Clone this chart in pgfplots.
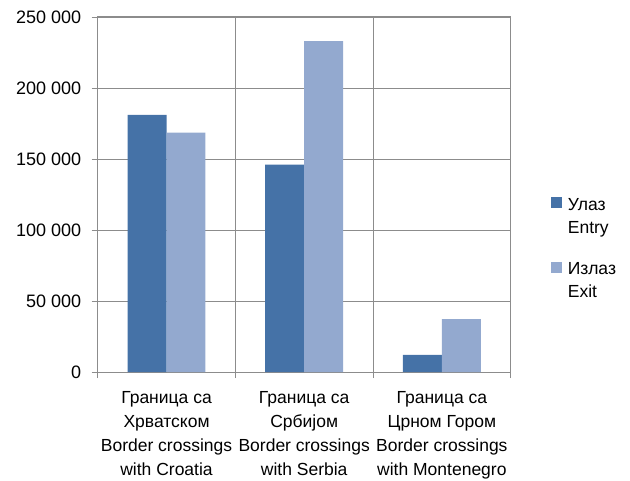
\documentclass[border=0pt]{standalone}
\usepackage{fontspec}
\setmainfont{Liberation Sans}
\usepackage{pgfplots}
\pgfplotsset{compat=1.18}
\definecolor{entrycol}{RGB}{69,114,167}
\definecolor{exitcol}{RGB}{147,169,207}
\definecolor{gridgray}{RGB}{140,140,140}
\begin{document}
\begin{tikzpicture}
\begin{axis}[
    scale only axis,
    width=413bp, height=355bp,
    ymin=0, ymax=250000,
    xmin=-0.5, xmax=2.5,
    scaled y ticks=false,
    ytick={0,50000,100000,150000,200000,250000},
    yticklabels={0,50 000,100 000,150 000,200 000,250 000},
    xtick={0,1,2},
    xticklabels={
        Граница са\\Хрватском\\Border crossings\\with Croatia,
        Граница са\\Србијом\\Border crossings\\with Serbia,
        Граница са\\Црном Гором\\Border crossings\\with Montenegro},
    minor xtick={-0.5,0.5,1.5,2.5},
    xminorgrids, ymajorgrids,
    grid style={gridgray, line width=0.9bp},
    axis line style={gridgray, line width=1bp},
    tick style={gridgray, line width=0.9bp},
    tick align=outside,
    xtick pos=bottom, ytick pos=left,
    major tick length=6bp, minor tick length=6bp,
    major x tick style={draw=none},
    yticklabel style={font=\fontsize{18bp}{22bp}\selectfont, xshift=-7bp},
    xticklabel style={font=\fontsize{17.5bp}{24bp}\selectfont, align=center, yshift=-10bp},
    ybar=0pt, bar width=0.283,
    legend style={draw=none, fill=none, at={(1,0.5)}, anchor=west,
        xshift=36bp, yshift=-54bp,
        font=\fontsize{17.5bp}{23bp}\selectfont,
        nodes={align=left}, row sep=24bp},
    legend cell align=left,
    legend image code/.code={
        \path (0bp,0bp) (16bp,0bp);
        \fill[#1, draw=none] (1.5bp,8bp) rectangle (12.5bp,19bp);},
]
\addplot[fill=entrycol, draw=none] coordinates {(0,181000) (1,146000) (2,12000)};
\addplot[fill=exitcol, draw=none] coordinates {(0,168500) (1,233000) (2,37300)};
\addlegendentry{Улаз\\Entry}
\addlegendentry{Излаз\\Exit}
\coordinate (bl) at (rel axis cs:0,0);
\end{axis}
\pgfresetboundingbox
\path[use as bounding box] (bl) ++(-97.7bp,-109bp) rectangle ++(630bp,481bp);
\end{tikzpicture}
\end{document}
